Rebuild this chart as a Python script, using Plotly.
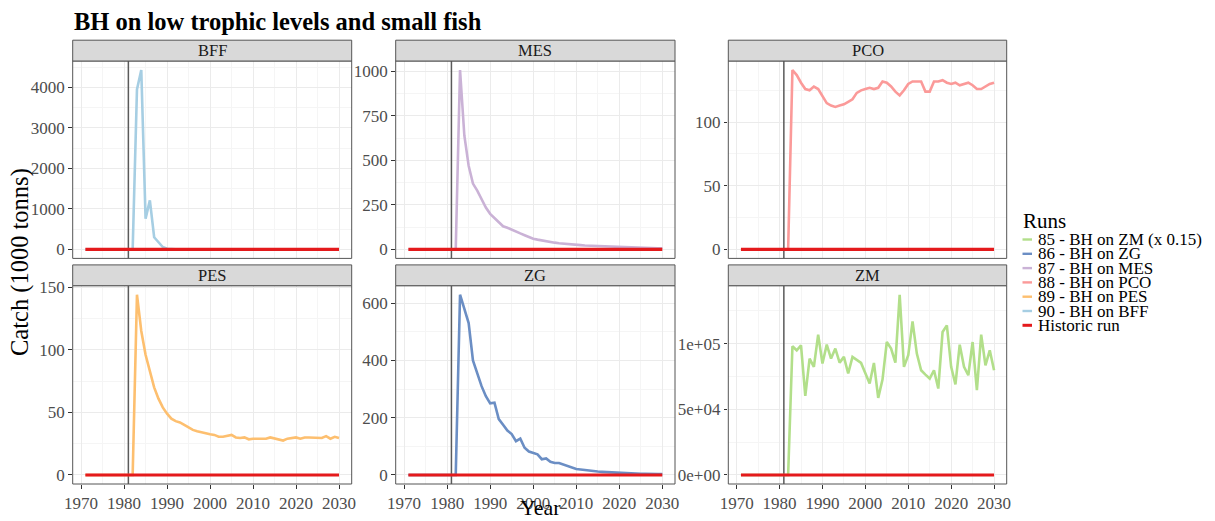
import plotly.graph_objects as go

# ---- data -------------------------------------------------------------
YEARS = list(range(1971, 2031))
FISHING_START = 1981

PANELS = ["BFF", "MES", "PCO", "PES", "ZG", "ZM"]

BFF = [0, 0, 0, 0, 0, 0, 0, 0, 0, 0, 0, 0,
       3950, 4430, 760, 1210, 300, 180, 60, 15, 5, 2,
       0, 0, 0, 0, 0, 0, 0, 0, 0, 0, 0, 0, 0, 0, 0, 0, 0, 0, 0,
       0, 0, 0, 0, 0, 0, 0, 0, 0, 0, 0, 0, 0, 0, 0, 0, 0, 0, 0]

MES = [0, 0, 0, 0, 0, 0, 0, 0, 0, 0, 0, 0,
       1008, 640, 470, 370, 330, 285, 235, 200,
       175, 155, 130, 122, 110, 100, 90, 80, 70, 60,
       55, 50, 45, 40, 38, 35, 32, 30, 28, 26,
       24, 22, 21, 20, 18, 17, 16, 13, 12, 11,
       10, 10, 9, 9, 8, 8, 7, 7, 6, 6]

PCO = [0, 0, 0, 0, 0, 0, 0, 0, 0, 0, 0, 0,
       141, 137, 131, 126, 125, 128, 126, 120,
       115, 113, 112, 113, 114, 116, 118, 123, 125, 126,
       127, 126, 127, 132, 131, 128, 124, 121, 125, 130,
       132, 132, 132, 124, 124, 132, 132, 133, 131, 130,
       131, 129, 130, 131, 129, 126, 126, 128, 130, 131]

PES = [0, 0, 0, 0, 0, 0, 0, 0, 0, 0, 0, 0,
       144, 115, 96, 83, 70, 61, 54, 49,
       45, 43, 42, 40, 38, 36, 35, 34, 33, 32.5,
       32, 30.5, 30.5, 31, 32, 30, 29.5, 30, 28.5, 29,
       29, 29.5, 29, 30, 29, 28.5, 27.5, 29, 29.5, 30,
       29, 30, 30, 30, 30, 29.5, 31, 29, 30.5, 29.5]

ZG = [0, 0, 0, 0, 0, 0, 0, 0, 0, 0, 0, 0,
      629, 580, 530, 400, 355, 310, 275, 250,
      252, 195, 175, 155, 143, 118, 127, 95, 82, 76,
      72, 55, 58, 46, 42, 42, 37, 32, 25, 21,
      19, 17, 14, 13, 12, 11, 10, 9, 8, 8,
      7, 6, 5, 5, 4, 4, 3, 3, 3, 3]

ZM = [0, 0, 0, 0, 0, 0, 0, 0, 0, 0, 0, 0,
      97950, 94900, 98700, 60200, 88600, 82300, 106800, 84800,
      99200, 88600, 96200, 85500, 89900, 77200, 89900, 87300, 85300, 77500,
      69600, 85300, 58700, 72600, 101200, 96200, 85500, 137200, 82300, 91100,
      116900, 92400, 79700, 76400, 73400, 79700, 65800, 108800, 113900, 82300,
      68900, 99200, 82300, 75900, 101200, 64500, 106800, 83500, 94900, 79700]

HISTORIC = [0] * len(YEARS)

RUN_LABELS = ["85 - BH on ZM (x 0.15)", "86 - BH on ZG", "87 - BH on MES",
              "88 - BH on PCO", "89 - BH on PES", "90 - BH on BFF", "Historic run"]
RUN_COLORS = ["#B2DF8A", "#6B8EC4", "#CAB2D6", "#FB9A99", "#FDBF6F", "#A6CEE3", "#E41A1C"]

SERIES = {"BFF": BFF, "MES": MES, "PCO": PCO, "PES": PES, "ZG": ZG, "ZM": ZM}
PANEL_COLOR = {"ZM": RUN_COLORS[0], "ZG": RUN_COLORS[1], "MES": RUN_COLORS[2],
               "PCO": RUN_COLORS[3], "PES": RUN_COLORS[4], "BFF": RUN_COLORS[5]}
HIST_COLOR = RUN_COLORS[6]

Y_DTICK = {"BFF": 1000, "MES": 250, "PCO": 50, "PES": 50, "ZG": 200, "ZM": 50000}
ZM_TICKS = [0, 50000, 100000]
ZM_TICKTEXT = ["0e+00", "5e+04", "1e+05"]
X_TICKS = [1970, 1980, 1990, 2000, 2010, 2020, 2030]

# ---- layout geometry (pixels) ------------------------------------------
W, H = 1215, 521
FONT = "Liberation Serif, Times New Roman, serif"
COLS = [(72.7, 351.7), (395.7, 675.0), (728.3, 1006.7)]
ROWS = [(61.0, 258.4), (285.7, 484.0)]
STRIP_H = 20.8


def fx(p):
    return p / W


def fy(p):
    return 1 - p / H


fig = go.Figure()
layout = dict(
    width=W, height=H,
    margin=dict(l=0, r=0, t=0, b=0, autoexpand=False),
    paper_bgcolor="white", plot_bgcolor="white",
    showlegend=False,
    font=dict(family=FONT, color="#1A1A1A"),
)
shapes, annotations = [], []

xmin, xmax = min(YEARS), max(YEARS)
xpad = 0.05 * (xmax - xmin)
grid_major = "#EBEBEB"
grid_minor = "#F5F5F5"
TICK_FONT = dict(family=FONT, size=17, color="#4D4D4D")

for i, name in enumerate(PANELS):
    r, c = divmod(i, 3)
    k = "" if i == 0 else str(i + 1)
    x0, x1 = COLS[c]
    top, bot = ROWS[r]
    vals = SERIES[name]
    vmax = max(vals)
    ypad = 0.05 * vmax
    yr = [-ypad, vmax + ypad]

    # start-of-fishing marker
    fig.add_trace(go.Scatter(x=[FISHING_START, FISHING_START], y=yr, mode="lines",
                             line=dict(color="#5A5A5A", width=1.5),
                             xaxis="x" + k, yaxis="y" + k, hoverinfo="skip"))
    fig.add_trace(go.Scatter(x=YEARS, y=vals, mode="lines",
                             line=dict(color=PANEL_COLOR[name], width=2.6),
                             xaxis="x" + k, yaxis="y" + k, name=name))
    fig.add_trace(go.Scatter(x=YEARS, y=HISTORIC, mode="lines",
                             line=dict(color=HIST_COLOR, width=3.2),
                             xaxis="x" + k, yaxis="y" + k, name="Historic run"))

    bottom_row = r == 1
    layout["xaxis" + k] = dict(
        domain=[fx(x0), fx(x1)], anchor="y" + k, automargin=False,
        range=[xmin - xpad, xmax + xpad],
        tickvals=X_TICKS, showticklabels=bottom_row,
        ticks="outside" if bottom_row else "", ticklen=3.5, tickwidth=1, tickcolor="#333333",
        tickfont=TICK_FONT,
        showgrid=True, gridcolor=grid_major, gridwidth=1, zeroline=False, showline=False,
        minor=dict(tick0=1965, dtick=10, showgrid=True, gridcolor=grid_minor, gridwidth=1, ticks=""),
    )
    ya = dict(
        domain=[fy(bot), fy(top)], anchor="x" + k, range=yr, automargin=False,
        ticks="outside", ticklen=3.5, tickwidth=1, tickcolor="#333333",
        tickfont=TICK_FONT,
        showgrid=True, gridcolor=grid_major, gridwidth=1, zeroline=False, showline=False,
        minor=dict(tick0=Y_DTICK[name] / 2, dtick=Y_DTICK[name], showgrid=True,
                   gridcolor=grid_minor, gridwidth=1, ticks=""),
    )
    if name == "ZM":
        ya.update(tickvals=ZM_TICKS, ticktext=ZM_TICKTEXT)
    else:
        ya.update(tick0=0, dtick=Y_DTICK[name])
    layout["yaxis" + k] = ya

    # panel border
    shapes.append(dict(type="rect", xref="paper", yref="paper", layer="above",
                       x0=fx(x0), x1=fx(x1), y0=fy(bot), y1=fy(top),
                       line=dict(color="#555555", width=1), fillcolor="rgba(0,0,0,0)"))
    # facet strip
    shapes.append(dict(type="rect", xref="paper", yref="paper", layer="above",
                       x0=fx(x0), x1=fx(x1), y0=fy(top), y1=fy(top - STRIP_H),
                       line=dict(color="#555555", width=1), fillcolor="#D9D9D9"))
    annotations.append(dict(text=name, xref="paper", yref="paper", showarrow=False,
                            x=fx((x0 + x1) / 2), y=fy(top - STRIP_H / 2),
                            xanchor="center", yanchor="middle",
                            font=dict(family=FONT, size=16.5, color="#1A1A1A")))

# titles
annotations.append(dict(text="<b>BH on low trophic levels and small fish</b>",
                        xref="paper", yref="paper", showarrow=False, borderpad=0,
                        x=fx(73), y=fy(22), xanchor="left", yanchor="middle",
                        font=dict(family=FONT, size=24.5, color="black")))
annotations.append(dict(text="Catch (1000 tonns)", xref="paper", yref="paper", showarrow=False,
                        x=fx(20), y=fy(262), xanchor="center", yanchor="middle", textangle=-90,
                        font=dict(family=FONT, size=24.5, color="black")))
annotations.append(dict(text="Year", xref="paper", yref="paper", showarrow=False, borderpad=0,
                        x=fx(540), y=0, xanchor="center", yanchor="bottom",
                        font=dict(family=FONT, size=22, color="black")))

# legend
annotations.append(dict(text="Runs", xref="paper", yref="paper", showarrow=False, borderpad=0,
                        x=fx(1021.5), y=fy(221), xanchor="left", yanchor="middle",
                        font=dict(family=FONT, size=21, color="black")))
for j, (lab, col) in enumerate(zip(RUN_LABELS, RUN_COLORS)):
    yc = 239.5 + 14.3 * j
    shapes.append(dict(type="line", xref="paper", yref="paper",
                       x0=fx(1022.5), x1=fx(1032), y0=fy(yc), y1=fy(yc),
                       line=dict(color=col, width=3 if j == 6 else 2.4)))
    annotations.append(dict(text=lab, xref="paper", yref="paper", showarrow=False, borderpad=0,
                            x=fx(1036.5), y=fy(yc), xanchor="left", yanchor="middle",
                            font=dict(family=FONT, size=17, color="black")))

layout["shapes"] = shapes
layout["annotations"] = annotations
fig.update_layout(**layout)
fig.write_html("out.html")
